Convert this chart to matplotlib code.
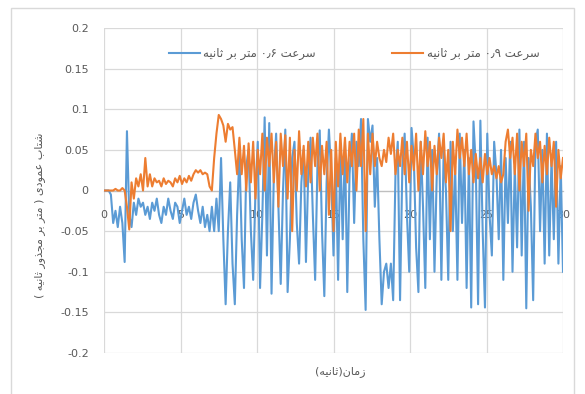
import numpy as np
import matplotlib
matplotlib.use("Agg")
import matplotlib.pyplot as plt
from matplotlib.patches import Rectangle
from matplotlib.ticker import FixedLocator, FuncFormatter

# ---------------- data ----------------
dt = 0.15  # seconds between samples
blue_06 = [
    0, 0, 0, -0.005, -0.04, -0.025, -0.045, -0.02, -0.04, -0.088,
    0.073, -0.03, -0.045, -0.015, -0.03, -0.01, -0.02, -0.015, -0.03, -0.02,
    -0.035, -0.015, -0.025, -0.01, -0.03, -0.04, -0.02, -0.03, -0.01, -0.025,
    -0.035, -0.015, -0.02, -0.04, -0.025, -0.01, -0.03, -0.02, -0.035, -0.015,
    -0.005, -0.025, -0.04, -0.02, -0.045, -0.03, -0.05, -0.02, -0.05, -0.01,
    -0.05, 0.04, -0.06, -0.14, -0.05, 0.01, -0.09, -0.14, -0.03, 0.045,
    -0.06, -0.12, 0.03, 0.05, -0.05, -0.11, 0.0, 0.06, -0.12, -0.03,
    0.09, -0.08, 0.083, -0.127, 0.02, 0.07, -0.02, -0.115, 0.0, 0.075,
    -0.125, -0.06, 0.04, 0.06, -0.04, -0.09, 0.01, 0.05, -0.088, 0.02,
    0.065, -0.03, -0.11, 0.03, 0.074, -0.05, -0.13, 0.01, 0.075, 0.02,
    -0.08, 0.04, -0.11, 0.05, -0.06, 0.06, -0.125, 0.02, 0.07, -0.04,
    0.06, 0.03, 0.088, -0.06, -0.147, 0.088, 0.06, 0.08, -0.02, 0.04,
    -0.06, -0.14, -0.1, -0.09, -0.12, -0.09, -0.135, 0.02, 0.06, -0.135,
    0.03, 0.07, -0.03, -0.1, 0.077, 0.04, -0.07, -0.125, 0.06, -0.02,
    -0.12, 0.065, -0.06, 0.05, -0.1, 0.02, 0.07, -0.11, 0.05, 0.0,
    -0.11, 0.06, -0.05, 0.03, -0.11, 0.07, -0.04, 0.05, -0.12, 0.04,
    -0.144, 0.085, 0.03, -0.14, 0.086, -0.05, -0.144, 0.07, -0.03, -0.08,
    0.06, 0.02, -0.06, 0.05, -0.11, 0.04, -0.04, 0.06, -0.1, 0.03,
    -0.07, 0.075, -0.08, 0.06, -0.145, 0.04, -0.02, -0.135, 0.06, 0.075,
    -0.05, 0.05, -0.09, 0.07, -0.08, 0.04, -0.06, 0.06, -0.09, 0.03,
    -0.1,
]
orange_09 = [
    0, 0, 0, 0, 0, 0.002, 0, 0, 0.003, 0.0,
    -0.02, -0.048, 0.01, -0.01, 0.015, 0.005, 0.02, 0.0, 0.04, 0.005,
    0.02, 0.005, 0.015, 0.01, 0.012, 0.005, 0.015, 0.008, 0.012, 0.01,
    0.005, 0.015, 0.01, 0.018, 0.008, 0.015, 0.01, 0.018, 0.012, 0.02,
    0.025, 0.022, 0.025, 0.02, 0.022, 0.02, 0.005, 0.0, 0.04, 0.07,
    0.093, 0.088, 0.08, 0.06, 0.082, 0.075, 0.078, 0.05, 0.02, 0.065,
    0.02, 0.055, 0.0, 0.058, 0.01, 0.06, -0.01, 0.05, 0.02, 0.07,
    0.0, 0.065, 0.03, 0.07, 0.01, 0.06, -0.02, 0.07, 0.03, 0.068,
    -0.01, 0.065, -0.05, 0.05, 0.0, 0.073, 0.02, 0.055, 0.005, 0.06,
    0.01, 0.065, 0.03, 0.07, 0.0, 0.055, 0.02, 0.06, -0.03, 0.05,
    -0.05, 0.06, 0.005, 0.07, 0.02, 0.065, 0.01, 0.06, 0.03, 0.07,
    0.0, 0.075, 0.03, 0.088, -0.05, 0.07, 0.02, 0.07, 0.03, 0.06,
    0.04, 0.03, 0.05, 0.035, 0.065, 0.045, 0.07, 0.02, 0.05, 0.03,
    0.065, 0.02, 0.06, 0.01, 0.055, 0.025, 0.07, 0.0, 0.06, 0.02,
    0.073, 0.03, 0.06, 0.0, 0.055, 0.02, 0.065, 0.04, 0.07, 0.01,
    0.05, -0.05, 0.06, 0.02, 0.075, 0.04, 0.065, 0.03, 0.07, 0.02,
    0.05, 0.01, 0.045, 0.015, 0.04, 0.01, 0.045, 0.02, 0.04, 0.02,
    0.03, 0.015, 0.03, 0.01, 0.02, 0.06, 0.075, 0.04, 0.065, 0.02,
    0.07, 0.0, 0.06, 0.03, 0.07, -0.025, 0.05, 0.03, 0.07, 0.04,
    0.06, 0.01, 0.055, 0.02, 0.065, 0.03, 0.06, -0.02, 0.05, 0.015,
    0.04,
]
x_ticks = [0, 5, 10, 15, 20, 25, 30]
y_ticks = [-0.2, -0.15, -0.1, -0.05, 0, 0.05, 0.1, 0.15, 0.2]
label_blue = "سرعت ۰٫۶ متر بر ثانیه"
label_orange = "سرعت ۰٫۹ متر بر ثانیه"
x_title = "زمان(ثانیه)"
y_title = "شتاب عمودی ( متر بر مجذور ثانیه )"

# ------------- simple Arabic-script shaping (matplotlib has no bidi) -------------
_F = {
    'ا': (0xFE8D, 0xFE8E, 0xFE8D, 0xFE8E),
    'ب': (0xFE8F, 0xFE90, 0xFE91, 0xFE92),
    'ت': (0xFE95, 0xFE96, 0xFE97, 0xFE98),
    'ث': (0xFE99, 0xFE9A, 0xFE9B, 0xFE9C),
    'ج': (0xFE9D, 0xFE9E, 0xFE9F, 0xFEA0),
    'د': (0xFEA9, 0xFEAA, 0xFEA9, 0xFEAA),
    'ذ': (0xFEAB, 0xFEAC, 0xFEAB, 0xFEAC),
    'ر': (0xFEAD, 0xFEAE, 0xFEAD, 0xFEAE),
    'ز': (0xFEAF, 0xFEB0, 0xFEAF, 0xFEB0),
    'س': (0xFEB1, 0xFEB2, 0xFEB3, 0xFEB4),
    'ش': (0xFEB5, 0xFEB6, 0xFEB7, 0xFEB8),
    'ع': (0xFEC9, 0xFECA, 0xFECB, 0xFECC),
    'م': (0xFEE1, 0xFEE2, 0xFEE3, 0xFEE4),
    'ن': (0xFEE5, 0xFEE6, 0xFEE7, 0xFEE8),
    'ه': (0xFEE9, 0xFEEA, 0xFEEB, 0xFEEC),
    'و': (0xFEED, 0xFEEE, 0xFEED, 0xFEEE),
    'ی': (0xFEEF, 0xFEF0, 0xFEF3, 0xFEF4),
}
_RIGHT_ONLY = set('ادذرزو')
_DIG = set('۰۱۲۳۴۵۶۷۸۹٫0123456789.')


def rtl(s):
    out = []
    for i, ch in enumerate(s):
        if ch not in _F:
            out.append(ch)
            continue
        prev = s[i - 1] if i > 0 else ''
        nxt = s[i + 1] if i + 1 < len(s) else ''
        jp = prev in _F and prev not in _RIGHT_ONLY
        jn = nxt in _F and ch not in _RIGHT_ONLY
        f = _F[ch]
        c = f[3] if (jp and jn) else f[1] if jp else f[2] if jn else f[0]
        out.append(chr(c))
    # visual order: reverse, keep digit runs LTR, mirror brackets
    runs = []
    for ch in out:
        if ch in _DIG and runs and runs[-1][0] == 'd':
            runs[-1][1].append(ch)
        elif ch in _DIG:
            runs.append(['d', [ch]])
        else:
            runs.append(['c', [ch]])
    res = []
    for kind, chars in reversed(runs):
        if kind == 'd':
            res.extend(chars)
        else:
            ch = chars[0]
            ch = {'(': ')', ')': '('}.get(ch, ch)
            res.append(ch)
    return ''.join(res)


# ---------------- figure ----------------
plt.rcParams['font.family'] = ['DejaVu Sans']
W, H = 585, 394
fig = plt.figure(figsize=(W / 100, H / 100), dpi=100)
fig.patch.set_facecolor('white')

# outer chart border
fig.add_artist(Rectangle((11 / W, -0.02), (574 - 11) / W, 1.02 - 8 / H,
                         transform=fig.transFigure, fill=False,
                         edgecolor='#D9D9D9', linewidth=1.0))

ax = fig.add_axes([104 / W, 1 - 353 / H, (563 - 104) / W, (353 - 28) / H])
ax.set_facecolor('white')

t = np.arange(len(blue_06)) * dt
ax.plot(t, blue_06, color='#5B9BD5', linewidth=1.5, label=rtl(label_blue), zorder=3)
ax.plot(t, orange_09, color='#ED7D31', linewidth=1.5, label=rtl(label_orange), zorder=4)

ax.set_xlim(0, 30)
ax.set_ylim(-0.2, 0.2)
ax.xaxis.set_major_locator(FixedLocator(x_ticks))
ax.yaxis.set_major_locator(FixedLocator(y_ticks))


def yfmt(v, pos):
    if abs(v) < 1e-9:
        return '0'
    return ('%.2f' % v).rstrip('0').rstrip('.')


ax.yaxis.set_major_formatter(FuncFormatter(yfmt))
ax.grid(True, color='#D9D9D9', linewidth=0.9, zorder=0)
ax.set_axisbelow(True)

for s in ['top', 'right', 'left']:
    ax.spines[s].set_visible(False)
ax.spines['bottom'].set_position(('data', 0))
ax.spines['bottom'].set_color('#BFBFBF')
ax.spines['bottom'].set_linewidth(0.9)
ax.spines['bottom'].set_zorder(2)

ax.tick_params(axis='both', length=0, labelsize=8, labelcolor='#595959')
ax.tick_params(axis='y', pad=11)
ax.tick_params(axis='x', pad=14)

leg = ax.legend(loc='upper center', bbox_to_anchor=(0.545, 0.975), ncol=2,
                frameon=False, fontsize=8.5, handlelength=2.6,
                columnspacing=6.5, handletextpad=0.3)
for txt in leg.get_texts():
    txt.set_color('#595959')

fig.text(340 / W, 1 - 372 / H, rtl(x_title), ha='center', va='center',
         fontsize=8, color='#595959')
fig.text(40 / W, 1 - 215 / H, rtl(y_title), ha='center', va='center',
         rotation=90, fontsize=8, color='#595959')

fig.savefig('out.png', dpi=100, facecolor='white')
